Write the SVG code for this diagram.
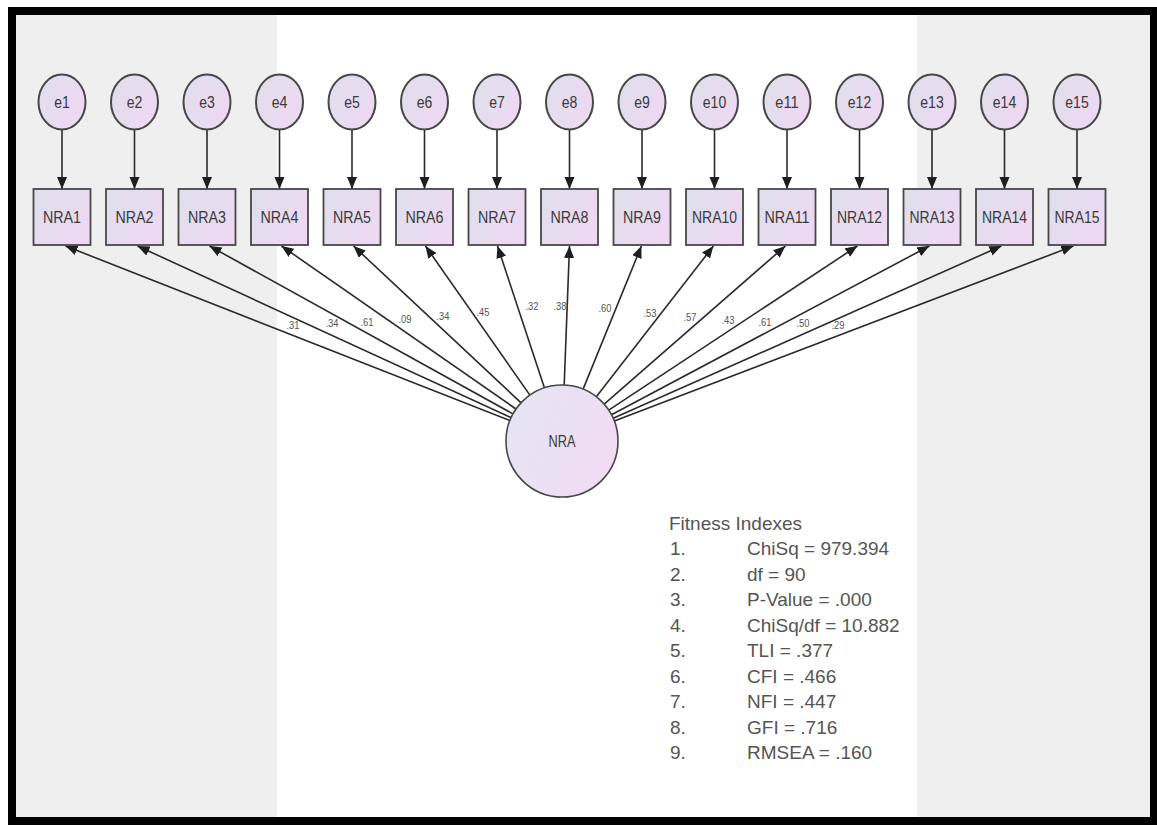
<svg xmlns="http://www.w3.org/2000/svg" width="1157" height="825" viewBox="0 0 1157 825">
<defs>
<linearGradient id="fillG" x1="0" y1="0.2" x2="1" y2="0.8">
<stop offset="0" stop-color="#e0dfec"/>
<stop offset="1" stop-color="#efd8f3"/>
</linearGradient>
<linearGradient id="fillC" x1="0" y1="0.3" x2="1" y2="0.7">
<stop offset="0" stop-color="#e5e5f3"/>
<stop offset="1" stop-color="#f2dbf3"/>
</linearGradient>
<marker id="ah" markerUnits="userSpaceOnUse" markerWidth="13" markerHeight="11" refX="12" refY="5" orient="auto">
<path d="M0,0 L12,5 L0,10 z" fill="#1e1e1e"/>
</marker>
<style>
.obs{fill:url(#fillG);stroke:#474747;stroke-width:1.8}
.err{fill:url(#fillG);stroke:#474747;stroke-width:2}
.lat{fill:url(#fillC);stroke:#474747;stroke-width:1.6}
.lbl{font-family:"Liberation Sans",Arial,sans-serif;font-size:16px;fill:#3a3a3a;text-anchor:middle}
.ld{font-family:"Liberation Sans",Arial,sans-serif;font-size:11px;fill:#555;text-anchor:middle}
.fit{font-family:"Liberation Sans",Arial,sans-serif;font-size:19px;fill:#555}
.con line{stroke:#2a2a2a;stroke-width:1.6;marker-end:url(#ah)}
</style>
</defs>
<rect x="0" y="0" width="1157" height="825" fill="#ffffff"/>
<rect x="16" y="15" width="261" height="803" fill="#efefef"/>
<rect x="917" y="15" width="233" height="803" fill="#efefef"/>
<rect x="12" y="11" width="1142" height="810" fill="none" stroke="#000" stroke-width="8"/>

<g id="connectors" class="con">
<line x1="62" y1="130" x2="62" y2="189"/>
<line x1="134.5" y1="130" x2="134.5" y2="189"/>
<line x1="207" y1="130" x2="207" y2="189"/>
<line x1="279.5" y1="130" x2="279.5" y2="189"/>
<line x1="352" y1="130" x2="352" y2="189"/>
<line x1="424.5" y1="130" x2="424.5" y2="189"/>
<line x1="497" y1="130" x2="497" y2="189"/>
<line x1="569.5" y1="130" x2="569.5" y2="189"/>
<line x1="642" y1="130" x2="642" y2="189"/>
<line x1="714.5" y1="130" x2="714.5" y2="189"/>
<line x1="787" y1="130" x2="787" y2="189"/>
<line x1="859.5" y1="130" x2="859.5" y2="189"/>
<line x1="932" y1="130" x2="932" y2="189"/>
<line x1="1004.5" y1="130" x2="1004.5" y2="189"/>
<line x1="1077" y1="130" x2="1077" y2="189"/>
<line x1="509.9" y1="420.5" x2="65.5" y2="246"/>
<line x1="511.1" y1="417.6" x2="137.5" y2="246"/>
<line x1="513.0" y1="413.9" x2="209.5" y2="246"/>
<line x1="516.0" y1="409.0" x2="281.5" y2="246"/>
<line x1="521.1" y1="402.8" x2="353.5" y2="246"/>
<line x1="529.9" y1="395.1" x2="425.5" y2="246"/>
<line x1="544.4" y1="387.8" x2="497.5" y2="246"/>
<line x1="564.2" y1="385.0" x2="569.5" y2="246"/>
<line x1="583.1" y1="389.1" x2="641.4" y2="246"/>
<line x1="596.3" y1="396.8" x2="713.4" y2="246"/>
<line x1="604.2" y1="404.2" x2="785.4" y2="246"/>
<line x1="608.7" y1="410.2" x2="857.4" y2="246"/>
<line x1="611.5" y1="414.7" x2="929.4" y2="246"/>
<line x1="613.2" y1="418.3" x2="1001.4" y2="246"/>
<line x1="614.3" y1="421.0" x2="1073.4" y2="246"/>
</g>

<g id="loadings">
<text class="ld" x="293" y="329" textLength="13" lengthAdjust="spacingAndGlyphs">.31</text>
<text class="ld" x="332" y="327" textLength="13" lengthAdjust="spacingAndGlyphs">.34</text>
<text class="ld" x="367" y="326" textLength="13" lengthAdjust="spacingAndGlyphs">.61</text>
<text class="ld" x="405" y="323" textLength="13" lengthAdjust="spacingAndGlyphs">.09</text>
<text class="ld" x="443" y="320" textLength="13" lengthAdjust="spacingAndGlyphs">.34</text>
<text class="ld" x="483" y="316" textLength="13" lengthAdjust="spacingAndGlyphs">.45</text>
<text class="ld" x="532" y="310" textLength="13" lengthAdjust="spacingAndGlyphs">.32</text>
<text class="ld" x="560" y="310" textLength="13" lengthAdjust="spacingAndGlyphs">.38</text>
<text class="ld" x="605" y="312" textLength="13" lengthAdjust="spacingAndGlyphs">.60</text>
<text class="ld" x="650" y="317" textLength="13" lengthAdjust="spacingAndGlyphs">.53</text>
<text class="ld" x="690" y="321" textLength="13" lengthAdjust="spacingAndGlyphs">.57</text>
<text class="ld" x="728" y="324" textLength="13" lengthAdjust="spacingAndGlyphs">.43</text>
<text class="ld" x="765" y="326" textLength="13" lengthAdjust="spacingAndGlyphs">.61</text>
<text class="ld" x="803" y="327" textLength="13" lengthAdjust="spacingAndGlyphs">.50</text>
<text class="ld" x="838" y="329" textLength="13" lengthAdjust="spacingAndGlyphs">.29</text>
</g>

<g id="e1"><ellipse class="err" cx="62" cy="102" rx="23.5" ry="27.5"/><text class="lbl" x="62" y="108" textLength="15.6" lengthAdjust="spacingAndGlyphs">e1</text></g>
<g id="e2"><ellipse class="err" cx="134.5" cy="102" rx="23.5" ry="27.5"/><text class="lbl" x="134.5" y="108" textLength="15.6" lengthAdjust="spacingAndGlyphs">e2</text></g>
<g id="e3"><ellipse class="err" cx="207" cy="102" rx="23.5" ry="27.5"/><text class="lbl" x="207" y="108" textLength="15.6" lengthAdjust="spacingAndGlyphs">e3</text></g>
<g id="e4"><ellipse class="err" cx="279.5" cy="102" rx="23.5" ry="27.5"/><text class="lbl" x="279.5" y="108" textLength="15.6" lengthAdjust="spacingAndGlyphs">e4</text></g>
<g id="e5"><ellipse class="err" cx="352" cy="102" rx="23.5" ry="27.5"/><text class="lbl" x="352" y="108" textLength="15.6" lengthAdjust="spacingAndGlyphs">e5</text></g>
<g id="e6"><ellipse class="err" cx="424.5" cy="102" rx="23.5" ry="27.5"/><text class="lbl" x="424.5" y="108" textLength="15.6" lengthAdjust="spacingAndGlyphs">e6</text></g>
<g id="e7"><ellipse class="err" cx="497" cy="102" rx="23.5" ry="27.5"/><text class="lbl" x="497" y="108" textLength="15.6" lengthAdjust="spacingAndGlyphs">e7</text></g>
<g id="e8"><ellipse class="err" cx="569.5" cy="102" rx="23.5" ry="27.5"/><text class="lbl" x="569.5" y="108" textLength="15.6" lengthAdjust="spacingAndGlyphs">e8</text></g>
<g id="e9"><ellipse class="err" cx="642" cy="102" rx="23.5" ry="27.5"/><text class="lbl" x="642" y="108" textLength="15.6" lengthAdjust="spacingAndGlyphs">e9</text></g>
<g id="e10"><ellipse class="err" cx="714.5" cy="102" rx="23.5" ry="27.5"/><text class="lbl" x="714.5" y="108" textLength="23.4" lengthAdjust="spacingAndGlyphs">e10</text></g>
<g id="e11"><ellipse class="err" cx="787" cy="102" rx="23.5" ry="27.5"/><text class="lbl" x="787" y="108" textLength="23.4" lengthAdjust="spacingAndGlyphs">e11</text></g>
<g id="e12"><ellipse class="err" cx="859.5" cy="102" rx="23.5" ry="27.5"/><text class="lbl" x="859.5" y="108" textLength="23.4" lengthAdjust="spacingAndGlyphs">e12</text></g>
<g id="e13"><ellipse class="err" cx="932" cy="102" rx="23.5" ry="27.5"/><text class="lbl" x="932" y="108" textLength="23.4" lengthAdjust="spacingAndGlyphs">e13</text></g>
<g id="e14"><ellipse class="err" cx="1004.5" cy="102" rx="23.5" ry="27.5"/><text class="lbl" x="1004.5" y="108" textLength="23.4" lengthAdjust="spacingAndGlyphs">e14</text></g>
<g id="e15"><ellipse class="err" cx="1077" cy="102" rx="23.5" ry="27.5"/><text class="lbl" x="1077" y="108" textLength="23.4" lengthAdjust="spacingAndGlyphs">e15</text></g>

<g id="NRA1"><rect class="obs" x="33.5" y="189" width="57" height="56"/><text class="lbl" x="62" y="223" textLength="38" lengthAdjust="spacingAndGlyphs">NRA1</text></g>
<g id="NRA2"><rect class="obs" x="106" y="189" width="57" height="56"/><text class="lbl" x="134.5" y="223" textLength="38" lengthAdjust="spacingAndGlyphs">NRA2</text></g>
<g id="NRA3"><rect class="obs" x="178.5" y="189" width="57" height="56"/><text class="lbl" x="207" y="223" textLength="38" lengthAdjust="spacingAndGlyphs">NRA3</text></g>
<g id="NRA4"><rect class="obs" x="251" y="189" width="57" height="56"/><text class="lbl" x="279.5" y="223" textLength="38" lengthAdjust="spacingAndGlyphs">NRA4</text></g>
<g id="NRA5"><rect class="obs" x="323.5" y="189" width="57" height="56"/><text class="lbl" x="352" y="223" textLength="38" lengthAdjust="spacingAndGlyphs">NRA5</text></g>
<g id="NRA6"><rect class="obs" x="396" y="189" width="57" height="56"/><text class="lbl" x="424.5" y="223" textLength="38" lengthAdjust="spacingAndGlyphs">NRA6</text></g>
<g id="NRA7"><rect class="obs" x="468.5" y="189" width="57" height="56"/><text class="lbl" x="497" y="223" textLength="38" lengthAdjust="spacingAndGlyphs">NRA7</text></g>
<g id="NRA8"><rect class="obs" x="541" y="189" width="57" height="56"/><text class="lbl" x="569.5" y="223" textLength="38" lengthAdjust="spacingAndGlyphs">NRA8</text></g>
<g id="NRA9"><rect class="obs" x="613.5" y="189" width="57" height="56"/><text class="lbl" x="642" y="223" textLength="38" lengthAdjust="spacingAndGlyphs">NRA9</text></g>
<g id="NRA10"><rect class="obs" x="686" y="189" width="57" height="56"/><text class="lbl" x="714.5" y="223" textLength="45" lengthAdjust="spacingAndGlyphs">NRA10</text></g>
<g id="NRA11"><rect class="obs" x="758.5" y="189" width="57" height="56"/><text class="lbl" x="787" y="223" textLength="45" lengthAdjust="spacingAndGlyphs">NRA11</text></g>
<g id="NRA12"><rect class="obs" x="831" y="189" width="57" height="56"/><text class="lbl" x="859.5" y="223" textLength="45" lengthAdjust="spacingAndGlyphs">NRA12</text></g>
<g id="NRA13"><rect class="obs" x="903.5" y="189" width="57" height="56"/><text class="lbl" x="932" y="223" textLength="45" lengthAdjust="spacingAndGlyphs">NRA13</text></g>
<g id="NRA14"><rect class="obs" x="976" y="189" width="57" height="56"/><text class="lbl" x="1004.5" y="223" textLength="45" lengthAdjust="spacingAndGlyphs">NRA14</text></g>
<g id="NRA15"><rect class="obs" x="1048.5" y="189" width="57" height="56"/><text class="lbl" x="1077" y="223" textLength="45" lengthAdjust="spacingAndGlyphs">NRA15</text></g>

<g id="NRA"><circle class="lat" cx="562" cy="441" r="56"/><text class="lbl" x="562" y="447" textLength="27" lengthAdjust="spacingAndGlyphs">NRA</text></g>

<g id="fitness" class="fit">
<text x="669" y="530">Fitness Indexes</text>
<text x="670" y="555">1.</text><text x="747" y="555">ChiSq = 979.394</text>
<text x="670" y="580.5">2.</text><text x="747" y="580.5">df = 90</text>
<text x="670" y="606">3.</text><text x="747" y="606">P-Value = .000</text>
<text x="670" y="631.5">4.</text><text x="747" y="631.5">ChiSq/df = 10.882</text>
<text x="670" y="657">5.</text><text x="747" y="657">TLI = .377</text>
<text x="670" y="682.5">6.</text><text x="747" y="682.5">CFI = .466</text>
<text x="670" y="708">7.</text><text x="747" y="708">NFI = .447</text>
<text x="670" y="733.5">8.</text><text x="747" y="733.5">GFI = .716</text>
<text x="670" y="759">9.</text><text x="747" y="759">RMSEA = .160</text>
</g>
</svg>
